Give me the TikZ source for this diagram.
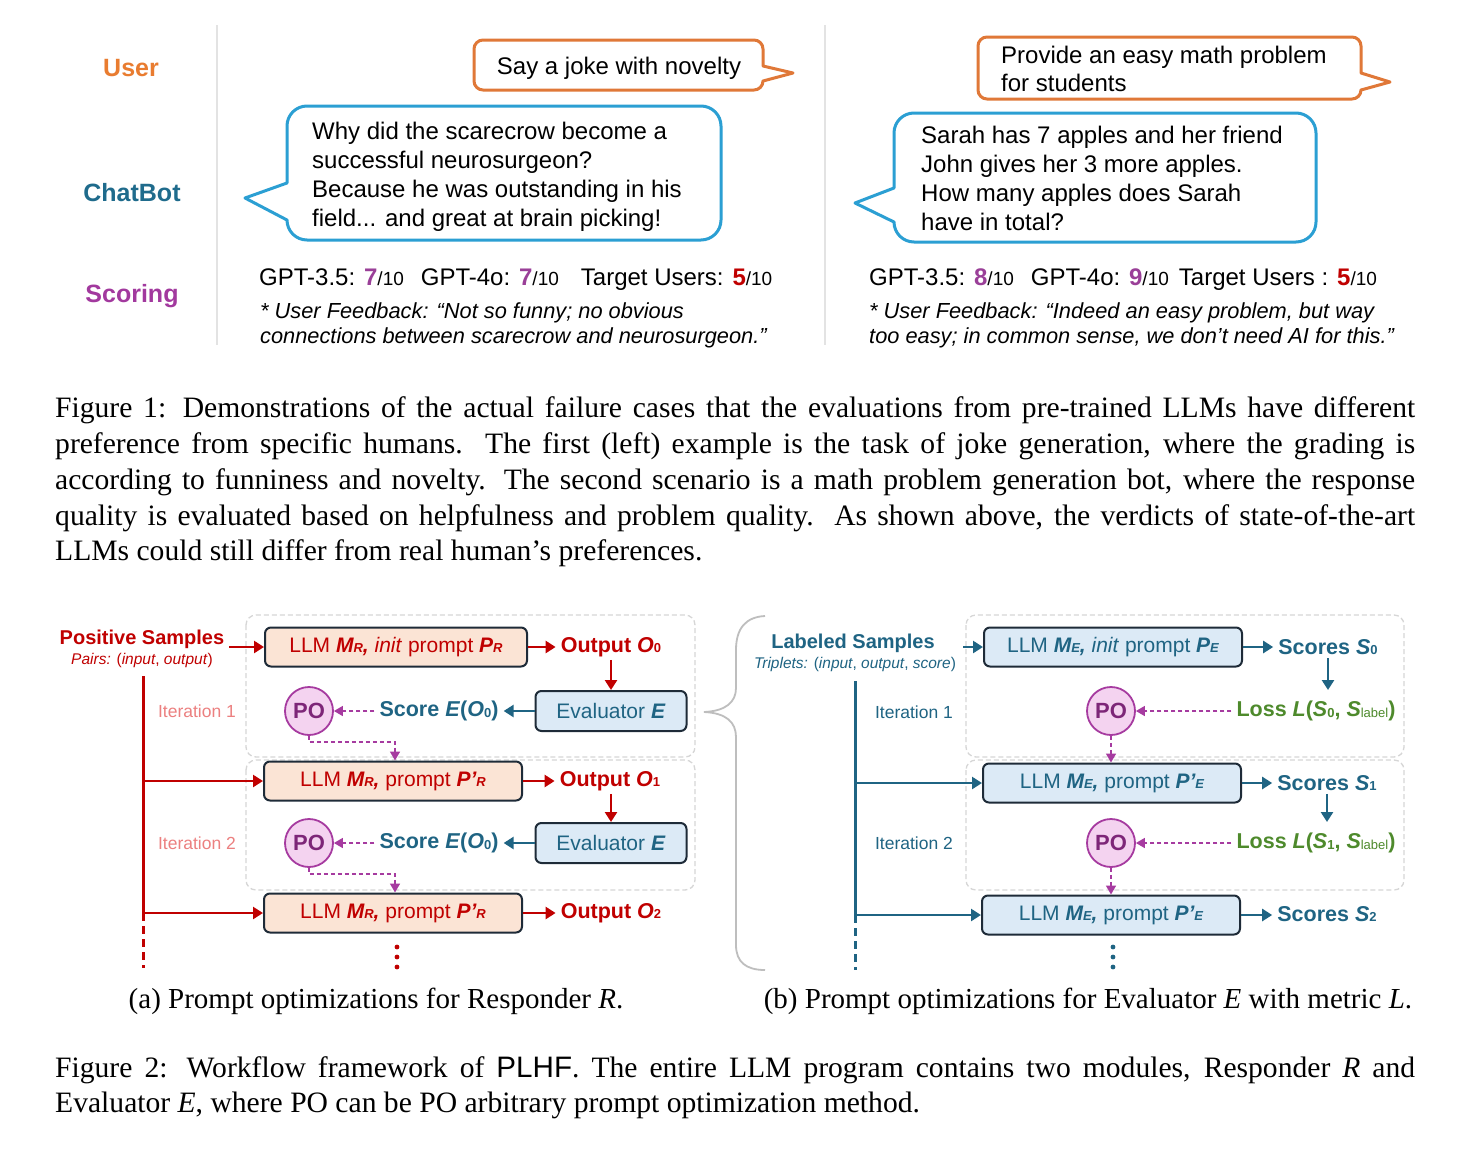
\documentclass[tikz,border=0pt]{standalone}
\usepackage{fontspec}
\setmainfont{Liberation Sans}
\newfontfamily\serif{Liberation Serif}
\usetikzlibrary{arrows.meta}
\definecolor{usrc}{HTML}{E97C30}
\definecolor{obubc}{HTML}{E07838}
\definecolor{botc}{HTML}{1F6B8C}
\definecolor{bbubc}{HTML}{2B9FD3}
\definecolor{scc}{HTML}{A2399E}
\definecolor{pnum}{HTML}{9A3F98}
\definecolor{dred}{HTML}{C00000}
\definecolor{peach}{HTML}{FBE4D5}
\definecolor{lblue}{HTML}{DCEAF6}
\definecolor{bline}{HTML}{1E2B38}
\definecolor{tealc}{HTML}{1F6483}
\definecolor{pur}{HTML}{A63BA0}
\definecolor{pofill}{HTML}{F4D3F0}
\definecolor{potext}{HTML}{7D2678}
\definecolor{grn}{HTML}{4E8A2C}
\definecolor{itred}{HTML}{EC8080}
\definecolor{grpc}{HTML}{D6D6D6}
\definecolor{sepc}{HTML}{E3E3E3}
\definecolor{bracec}{HTML}{BEBEBE}
\newcommand\fs[2]{\fontsize{#1}{#2}\selectfont}
\newcommand\sbs[1]{\raisebox{-0.5pt}{\fontsize{13}{13}\selectfont #1}}
\newcommand\pnm[1]{\textcolor{pnum}{\textbf{#1}}}
\newcommand\rnm[1]{\textcolor{dred}{\textbf{#1}}}
\newcommand\ten{{\fs{19}{19}/10}}
\tikzset{
  lab/.style={font=\bfseries\fs{25}{30}, inner sep=0pt},
  btxt/.style={font=\fs{24}{29}, inner sep=0pt, anchor=base west},
  fbk/.style={font=\itshape\fs{21.8}{25}, inner sep=0pt, anchor=base west},
  obub/.style={draw=obubc, line width=3pt, line join=round},
  bbub/.style={draw=bbubc, line width=3pt, line join=round},
  sepl/.style={draw=sepc, line width=2pt},
  grp/.style={draw=grpc, line width=1.3pt, dash pattern=on 5pt off 3pt, rounded corners=10pt},
  rbox/.style={draw=bline, fill=peach, line width=2pt, rounded corners=6pt, minimum width=258pt, minimum height=39pt, inner sep=0pt, text=dred, font=\fs{21}{25}},
  ebox/.style={draw=bline, fill=lblue, line width=2pt, rounded corners=6pt, minimum width=258pt, minimum height=39pt, inner sep=0pt, text=tealc, font=\fs{21}{25}},
  boldlbl/.style={font=\bfseries\fs{21.5}{25}, inner xsep=5pt, inner ysep=3pt},
  ttl/.style={font=\bfseries\fs{20}{24}, inner sep=0pt, anchor=base},
  smalli/.style={font=\fs{15.5}{18}, inner sep=0pt, anchor=base},
  iter/.style={font=\fs{17.5}{20}, inner sep=0pt},
  po/.style={circle, draw=pur, fill=pofill, line width=1.8pt, minimum size=48pt, inner sep=0pt, text=potext, font=\bfseries\fs{22}{24}},
  arr/.style={line width=2.6pt, -{Triangle[length=10pt,width=12pt]}},
  redarr/.style={arr, draw=dred},
  tealarr/.style={arr, draw=tealc},
  poarr/.style={draw=pur, line width=1.6pt, dash pattern=on 4pt off 3pt, -{Triangle[length=9pt,width=10pt]}},
  vline/.style={line width=3pt},
  captxt/.style={font=\serif\fs{29.6}{36}, inner sep=0pt, anchor=base west},
  subcap/.style={font=\serif\fs{29}{36}, inner sep=0pt, anchor=base},
}
\begin{document}
\begin{tikzpicture}[x=1pt,y=-1pt]
\useasboundingbox[fill=white] (0,0) rectangle (1468,1149);

% ---------- Figure 1 ----------
\draw[sepl] (217,25) -- (217,345);
\draw[sepl] (825,25) -- (825,345);

\node[lab, text=usrc, anchor=base] (lu) at (131,76) {User};
\node[lab, text=botc, anchor=base] (lc) at (132,201) {ChatBot};
\node[lab, text=scc, anchor=base] (ls) at (132,302) {Scoring};

% left bubbles
\draw[obub] (483,40) -- (754,40) arc[start angle=90,end angle=0,radius=9pt] -- (763,66) -- (793,73) -- (763,81)
  arc[start angle=0,end angle=-90,radius=9pt] -- (483,90) arc[start angle=270,end angle=180,radius=9pt] -- (474,49)
  arc[start angle=180,end angle=90,radius=9pt] -- cycle;
\node[btxt, anchor=base] (q1) at (619,74) {Say a joke with novelty};

\draw[bbub] (307,106) -- (701,106) arc[start angle=90,end angle=0,radius=20pt] -- (721,220)
  arc[start angle=0,end angle=-90,radius=20pt] -- (307,240) arc[start angle=270,end angle=180,radius=20pt]
  -- (245,198) -- (287,183) -- (287,126) arc[start angle=180,end angle=90,radius=20pt] -- cycle;
\node[btxt] (a1) at (312,139) {Why did the scarecrow become a};
\node[btxt] (a2) at (312,168) {successful neurosurgeon?};
\node[btxt] (a3) at (312,197) {Because he was outstanding in his};
\node[btxt] (a4) at (312,226) {field... and great at brain picking!};

\node[btxt] (g1) at (259,285) {GPT-3.5: \pnm{7}\ten\hspace{17pt}GPT-4o: \pnm{7}\ten\hspace{22pt}Target Users: \rnm{5}\ten};
\node[fbk] (f1) at (260,318) {* User Feedback: “Not so funny; no obvious};
\node[fbk] (f2) at (260,343) {connections between scarecrow and neurosurgeon.”};

% right bubbles
\draw[obub] (987,37) -- (1352,37) arc[start angle=90,end angle=0,radius=9pt] -- (1361,73) -- (1390,82) -- (1361,90)
  arc[start angle=0,end angle=-90,radius=9pt] -- (987,99) arc[start angle=270,end angle=180,radius=9pt] -- (978,46)
  arc[start angle=180,end angle=90,radius=9pt] -- cycle;
\node[btxt] (q2) at (1001,63) {Provide an easy math problem};
\node[btxt] (q3) at (1001,91) {for students};

\draw[bbub] (914,113) -- (1296,113) arc[start angle=90,end angle=0,radius=20pt] -- (1316,222)
  arc[start angle=0,end angle=-90,radius=20pt] -- (914,242) arc[start angle=270,end angle=180,radius=20pt]
  -- (855,203) -- (894,188) -- (894,133) arc[start angle=180,end angle=90,radius=20pt] -- cycle;
\node[btxt] (b1) at (921,143) {Sarah has 7 apples and her friend};
\node[btxt] (b2) at (921,172) {John gives her 3 more apples.};
\node[btxt] (b3) at (921,201) {How many apples does Sarah};
\node[btxt] (b4) at (921,230) {have in total?};

\node[btxt] (g2) at (869,285) {GPT-3.5: \pnm{8}\ten\hspace{17pt}GPT-4o: \pnm{9}\ten\hspace{10pt}Target Users : \rnm{5}\ten};
\node[fbk] (f3) at (869,318) {* User Feedback: “Indeed an easy problem, but way};
\node[fbk] (f4) at (869,343) {too easy; in common sense, we don’t need AI for this.”};

% caption 1
\node[captxt] (c1) at (55,417) {\makebox[1360pt][s]{Figure 1: Demonstrations of the actual failure cases that the evaluations from pre-trained LLMs have different}};
\node[captxt] (c2) at (55,453) {\makebox[1360pt][s]{preference from specific humans.\ \ The first (left) example is the task of joke generation, where the grading is}};
\node[captxt] (c3) at (55,489) {\makebox[1360pt][s]{according to funniness and novelty. The second scenario is a math problem generation bot, where the response}};
\node[captxt] (c4) at (55,525) {\makebox[1360pt][s]{quality is evaluated based on helpfulness and problem quality.\ \ As shown above, the verdicts of state-of-the-art}};
\node[captxt] (c5) at (55,560) {LLMs could still differ from real human’s preferences.};

% ---------- Figure 2 (a) ----------
\draw[grp] (246,615) rectangle (695,757);
\draw[grp] (246,760) rectangle (695,890);

\node[ttl, text=dred] (ps) at (142,644) {Positive Samples};
\node[smalli, text=dred] (pp) at (142,664) {\textit{Pairs:} (\textit{input}, \textit{output})};

\node[rbox, minimum width=262pt] (r1) at (396,647) {LLM \textbf{\textit{M\sbs{R},}} \textit{init} prompt \textbf{\textit{P\sbs{R}}}};
\node[rbox] (r2) at (393,781) {LLM \textbf{\textit{M\sbs{R},}} prompt \textbf{\textit{P’\sbs{R}}}};
\node[rbox] (r3) at (393,913) {LLM \textbf{\textit{M\sbs{R},}} prompt \textbf{\textit{P’\sbs{R}}}};

\node[boldlbl, text=dred] (o0) at (611,647) {Output \textit{O}\sbs{0}};
\node[boldlbl, text=dred] (o1) at (610,781) {Output \textit{O}\sbs{1}};
\node[boldlbl, text=dred] (o2) at (611,913) {Output \textit{O}\sbs{2}};

\node[ebox, minimum width=151pt, minimum height=40pt] (ev1) at (611,711) {Evaluator \textbf{\textit{E}}};
\node[ebox, minimum width=151pt, minimum height=40pt] (ev2) at (611,843) {Evaluator \textbf{\textit{E}}};

\node[boldlbl, text=tealc] (sc1) at (439,711) {Score \textit{E}(\textit{O}\sbs{0})};
\node[boldlbl, text=tealc] (sc2) at (439,843) {Score \textit{E}(\textit{O}\sbs{0})};

\node[po] (po1) at (309,711) {PO};
\node[po] (po2) at (309,843) {PO};

\node[iter, text=itred] (it1) at (197,711) {Iteration 1};
\node[iter, text=itred] (it2) at (197,843) {Iteration 2};

\coordinate (la) at (143,676);
\coordinate (lb) at (143,913);
\coordinate (lc) at (143,968);
\draw[vline, draw=dred] (la) -- (lb);
\draw[vline, draw=dred, dash pattern=on 8pt off 5pt] (lb) -- (lc);
\coordinate (psa) at (229,647);
\draw[redarr] (psa) -- (r1.west);
\draw[redarr] (la |- r2.west) -- (r2.west);
\draw[redarr] (la |- r3.west) -- (r3.west);
\draw[redarr] (r1.east) -- (r1.east -| o0.west);
\draw[redarr] (r2.east) -- (r2.east -| o1.west);
\draw[redarr] (r3.east) -- (r3.east -| o2.west);
\draw[redarr] (ev1.north |- o0.south) -- (ev1.north);
\draw[redarr] (ev2.north |- o1.south) -- (ev2.north);
\draw[tealarr] (ev1.west) -- (sc1.east);
\draw[tealarr] (ev2.west) -- (sc2.east);
\draw[poarr] (sc1.west) -- (po1.east);
\draw[poarr] (sc2.west) -- (po2.east);
\coordinate (k1) at (395,742);
\coordinate (k2) at (395,874);
\draw[poarr] (po1.south) |- (k1) -- (k1 |- r2.north);
\draw[poarr] (po2.south) |- (k2) -- (k2 |- r3.north);
\fill[dred] (397,947) circle[radius=2.4pt] (397,957) circle[radius=2.4pt] (397,967) circle[radius=2.4pt];

\node[subcap] (sa) at (376,1008) {(a) Prompt optimizations for Responder \textit{R}.};

% ---------- Figure 2 (b) ----------
\draw[draw=bracec, line width=1.8pt] (765,616) .. controls (746,617) and (736,628) .. (736,650) -- (736,688)
  .. controls (736,702) and (726,711) .. (704,712) .. controls (726,713) and (736,722) .. (736,737) -- (736,945)
  .. controls (736,962) and (746,970) .. (765,970);

\draw[grp] (966,615) rectangle (1404,757);
\draw[grp] (966,760) rectangle (1404,890);

\node[ttl, text=tealc] (lsb) at (853,648) {Labeled Samples};
\node[smalli, text=tealc] (lt) at (855,668) {\textit{Triplets:} (\textit{input}, \textit{output}, \textit{score})};

\node[ebox] (e1) at (1113,647) {LLM \textbf{\textit{M\sbs{E},}} \textit{init} prompt \textbf{\textit{P\sbs{E}}}};
\node[ebox] (e2) at (1112,783) {LLM \textbf{\textit{M\sbs{E},}} prompt \textbf{\textit{P’\sbs{E}}}};
\node[ebox] (e3) at (1111,915) {LLM \textbf{\textit{M\sbs{E},}} prompt \textbf{\textit{P’\sbs{E}}}};

\node[boldlbl, text=tealc] (s0) at (1328,647) {Scores \textit{S}\sbs{0}};
\node[boldlbl, text=tealc] (s1) at (1327,783) {Scores \textit{S}\sbs{1}};
\node[boldlbl, text=tealc] (s2) at (1327,914) {Scores \textit{S}\sbs{2}};

\node[boldlbl, text=grn] (l1) at (1316,711) {Loss \textit{L}(\textit{S}\sbs{0}, \textit{S}{\mdseries\sbs{label}})};
\node[boldlbl, text=grn] (l2) at (1316,843) {Loss \textit{L}(\textit{S}\sbs{1}, \textit{S}{\mdseries\sbs{label}})};

\node[po] (po3) at (1111,711) {PO};
\node[po] (po4) at (1111,843) {PO};

\node[iter, text=tealc] (it3) at (914,712) {Iteration 1};
\node[iter, text=tealc] (it4) at (914,843) {Iteration 2};

\coordinate (ma) at (855,681);
\coordinate (mb) at (855,915);
\coordinate (mc) at (855,970);
\draw[vline, draw=tealc] (ma) -- (mb);
\draw[vline, draw=tealc, dash pattern=on 8pt off 5pt] (mb) -- (mc);
\coordinate (lsa) at (963,647);
\draw[tealarr] (lsa) -- (e1.west);
\draw[tealarr] (ma |- e2.west) -- (e2.west);
\draw[tealarr] (ma |- e3.west) -- (e3.west);
\draw[tealarr] (e1.east) -- (e1.east -| s0.west);
\draw[tealarr] (e2.east) -- (e2.east -| s1.west);
\draw[tealarr] (e3.east) -- (e3.east -| s2.west);
\coordinate (t1) at (1327,690);
\coordinate (t2) at (1327,822);
\draw[tealarr] (s0.south) -- (s0.south |- t1);
\draw[tealarr] (s1.south) -- (s1.south |- t2);
\draw[poarr] (l1.west) -- (po3.east);
\draw[poarr] (l2.west) -- (po4.east);
\draw[poarr] (po3.south) -- (po3.south |- e2.north);
\draw[poarr] (po4.south) -- (po4.south |- e3.north);
\fill[tealc] (1113,947) circle[radius=2.4pt] (1113,957) circle[radius=2.4pt] (1113,967) circle[radius=2.4pt];

\node[subcap] (sb) at (1088,1008) {(b) Prompt optimizations for Evaluator \textit{E} with metric \textit{L}.};

% caption 2
\node[captxt] (d1) at (55,1077) {\makebox[1360pt][s]{Figure 2: Workflow framework of {\fontspec{Liberation Sans}PLHF}. The entire LLM program contains two modules, Responder \textit{R} and}};
\node[captxt] (d2) at (55,1112) {Evaluator \textit{E}, where PO can be PO arbitrary prompt optimization method.};
\end{tikzpicture}
\end{document}
